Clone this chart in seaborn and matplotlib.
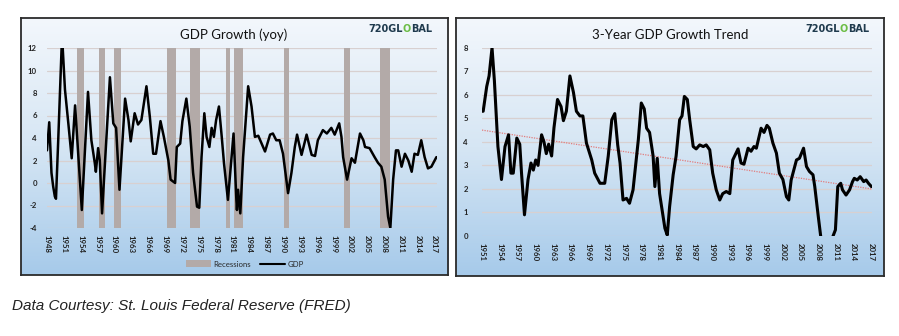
import numpy as np
import pandas as pd
import matplotlib
matplotlib.use("Agg")
import matplotlib.pyplot as plt
from matplotlib.colors import LinearSegmentedColormap
from matplotlib.patches import Patch
from matplotlib.lines import Line2D
import seaborn as sns

# ---------------- data ----------------
gdp_years = [1948.0, 1948.4, 1948.8, 1949.1, 1949.4, 1949.6, 1950.0, 1950.6, 1950.8, 1951.2,
             1951.8, 1952.4, 1953.0, 1953.4, 1954.2, 1955.3, 1955.9, 1956.5, 1956.7, 1957.1,
             1957.4, 1957.8, 1959.2, 1959.8, 1960.3, 1960.9, 1961.9, 1962.5, 1962.9, 1963.6,
             1964.2, 1964.8, 1965.7, 1966.3, 1966.9, 1967.4, 1968.2, 1968.8, 1969.6, 1970.0,
             1970.8, 1971.1, 1971.7, 1972.1, 1972.8, 1973.4, 1974.0, 1974.7, 1975.1, 1975.5,
             1976.0, 1976.4, 1976.9, 1977.3, 1977.7, 1978.1, 1978.6, 1979.1, 1979.5, 1980.2,
             1981.2, 1981.7, 1981.8, 1982.0, 1982.4, 1982.9, 1983.8, 1984.4, 1985.0, 1985.6,
             1986.2, 1986.8, 1987.7, 1988.2, 1988.8, 1989.4, 1990.0, 1990.9, 1991.5, 1992.1,
             1992.5, 1993.3, 1994.2, 1995.1, 1995.7, 1996.2, 1997.1, 1997.8, 1998.6, 1999.2,
             2000.0, 2000.4, 2000.7, 2001.4, 2002.2, 2002.8, 2003.7, 2004.3, 2004.6, 2005.4,
             2006.3, 2006.9, 2007.5, 2008.1, 2008.7, 2009.1, 2009.6, 2010.1, 2010.5, 2011.1,
             2011.7, 2012.3, 2012.9, 2013.4, 2014.0, 2014.6, 2015.2, 2015.8, 2016.4, 2017.3]
gdp_values = [2.9, 5.4, 0.9, -0.3, -1.2, -1.4, 3.8, 12.0, 12.0, 8.3,
              5.3, 2.2, 6.9, 3.8, -2.4, 8.1, 3.8, 1.8, 1.0, 3.1,
              2.0, -2.7, 9.4, 5.3, 4.9, -0.6, 7.5, 5.6, 3.7, 6.2,
              5.2, 5.6, 8.6, 5.9, 2.6, 2.6, 5.5, 4.1, 2.0, 0.3,
              0.0, 3.2, 3.5, 5.5, 7.5, 5.0, 0.9, -2.1, -2.2, 2.3,
              6.2, 4.1, 3.2, 4.9, 4.1, 5.6, 6.8, 4.1, 1.75, -1.5,
              4.4, -1.5, -2.4, -0.6, -2.7, 2.3, 8.6, 6.8, 4.1, 4.2,
              3.5, 2.8, 4.3, 4.4, 3.8, 3.8, 2.6, -0.9, 0.9, 3.2,
              4.3, 2.5, 4.3, 2.5, 2.4, 3.8, 4.7, 4.4, 4.9, 4.3,
              5.3, 4.1, 2.3, 0.3, 2.2, 1.8, 4.4, 3.8, 3.2, 3.1,
              2.3, 1.8, 1.45, 0.3, -3.0, -4.0, 0.3, 2.9, 2.9, 1.45,
              2.6, 2.0, 1.0, 2.6, 2.5, 3.8, 2.3, 1.3, 1.45, 2.3]

rec_start = [1953.3, 1957.2, 1960.0, 1969.4, 1973.4, 1979.8, 1981.3, 1990.1, 2000.8, 2007.3]
rec_end   = [1954.5, 1958.4, 1961.2, 1970.9, 1975.2, 1980.5, 1982.9, 1991.1, 2001.9, 2009.1]

trend3_years = [1951.0, 1951.2, 1951.8, 1952.2, 1952.7, 1953.1, 1953.7, 1954.3, 1954.9, 1955.5,
                1955.9, 1956.3, 1956.9, 1957.4, 1957.7, 1958.2, 1958.8, 1959.3, 1959.7, 1960.1,
                1960.5, 1961.1, 1961.5, 1961.9, 1962.3, 1962.8, 1963.2, 1963.8, 1964.4, 1964.8,
                1965.3, 1965.9, 1966.5, 1967.0, 1967.6, 1968.1, 1968.7, 1969.6, 1970.1, 1971.0,
                1971.8, 1972.4, 1973.0, 1973.5, 1974.0, 1974.4, 1974.9, 1975.5, 1976.0, 1976.6,
                1977.5, 1978.0, 1978.5, 1978.9, 1979.4, 1980.0, 1980.3, 1980.7, 1981.1, 1981.7,
                1982.0, 1982.4, 1982.8, 1983.4, 1983.9, 1984.5, 1984.9, 1985.3, 1985.8, 1986.2,
                1986.8, 1987.3, 1987.9, 1988.5, 1989.0, 1989.6, 1990.1, 1990.7, 1991.3, 1991.8,
                1992.4, 1993.0, 1993.5, 1994.4, 1994.9, 1995.4, 1996.1, 1996.6, 1997.1, 1997.5,
                1998.3, 1998.8, 1999.3, 1999.7, 2000.3, 2000.9, 2001.4, 2002.0, 2002.6, 2003.0,
                2003.4, 2004.3, 2004.8, 2005.5, 2006.0, 2006.5, 2007.1, 2007.4, 2007.6, 2008.0,
                2008.4, 2009.0, 2010.0, 2010.5, 2010.9, 2011.3, 2011.8, 2012.1, 2012.7, 2013.3,
                2013.8, 2014.1, 2014.6, 2015.1, 2015.7, 2016.1, 2016.5, 2017.0]
trend3_values = [5.3, 5.3, 6.35, 6.8, 8.0, 6.6, 3.8, 2.4, 3.8, 4.3,
                 2.67, 2.67, 4.16, 3.9, 2.67, 0.9, 2.4, 3.1, 2.8, 3.23,
                 3.0, 4.3, 4.0, 3.5, 3.9, 3.4, 4.6, 5.8, 5.5, 4.9,
                 5.3, 6.8, 6.1, 5.3, 5.1, 5.1, 3.95, 3.23, 2.67, 2.24,
                 2.24, 3.4, 4.94, 5.2, 3.87, 3.1, 1.53, 1.6, 1.39, 1.96,
                 4.1, 5.65, 5.4, 4.58, 4.4, 3.4, 2.1, 3.3, 1.8, 0.82,
                 0.33, 0.04, 1.25, 2.6, 3.4, 4.94, 5.1, 5.93, 5.8, 4.94,
                 3.8, 3.7, 3.87, 3.8, 3.87, 3.66, 2.67, 1.96, 1.53, 1.8,
                 1.89, 1.8, 3.23, 3.7, 3.1, 3.05, 3.73, 3.6, 3.8, 3.73,
                 4.58, 4.4, 4.7, 4.58, 3.95, 3.52, 2.67, 2.4, 1.67, 1.53,
                 2.38, 3.23, 3.3, 3.73, 2.95, 2.74, 2.6, 2.1, 1.67, 0.82,
                 0.0, -0.6, -0.6, 0.0, 0.26, 2.1, 2.24, 1.96, 1.74, 1.96,
                 2.31, 2.45, 2.38, 2.52, 2.31, 2.38, 2.24, 2.1]

trendline_years = [1951.0, 2017.0]
trendline_values = [4.5, 2.0]

left_xticks = list(range(1948, 2018, 3))
left_yticks = list(range(-4, 13, 2))
right_xticks = list(range(1951, 2018, 3))
right_yticks = list(range(0, 9))

# ---------------- figure ----------------
sns.set_theme(style="white")
plt.rcParams["font.family"] = ["Lato", "DejaVu Sans"]

W, H = 899, 336
fig = plt.figure(figsize=(W / 100, H / 100), dpi=100)
fig.patch.set_facecolor("white")


def fx(px):
    return px / W


def fy(py):
    return 1 - py / H


grad_cmap = LinearSegmentedColormap.from_list("g", ["#f3f7fc", "#d6e6f4", "#a6caea"])


def panel_box(x0, y0, x1, y1):
    bg = fig.add_axes([fx(x0), fy(y1), (x1 - x0) / W, (y1 - y0) / H])
    grad = np.linspace(0, 1, 256).reshape(-1, 1)
    bg.imshow(grad, aspect="auto", cmap=grad_cmap, extent=[0, 1, 0, 1], origin="upper")
    bg.set_xticks([])
    bg.set_yticks([])
    for s in bg.spines.values():
        s.set_visible(True)
        s.set_color("#2b2b2b")
        s.set_linewidth(1.3)
    bg.set_zorder(0)
    return bg


def logo(x, y):
    t1 = fig.text(fx(x), fy(y), "720GL", fontsize=7, fontweight="bold",
                  color="#1f3a4d", family="DejaVu Sans", va="center", ha="left")
    t2 = fig.text(0, 0, "O", fontsize=7, fontweight="bold", color="#6cbd45",
                  family="DejaVu Sans", va="bottom", ha="left")
    fig.canvas.draw()
    bb = t1.get_window_extent()
    t2.set_position((bb.x1 / W, bb.y0 / H))
    fig.canvas.draw()
    bb2 = t2.get_window_extent()
    fig.text(bb2.x1 / W, bb.y0 / H, "BAL", fontsize=7, fontweight="bold",
             color="#1f3a4d", family="DejaVu Sans", va="bottom", ha="left")


def style_axes(ax):
    ax.set_facecolor("none")
    for s in ax.spines.values():
        s.set_visible(False)
    ax.grid(axis="y", color="#d8d0d0", linewidth=0.9)
    ax.grid(axis="x", visible=False)
    ax.tick_params(axis="both", length=0, labelsize=5.6, labelcolor="#222222")
    for lab in ax.get_xticklabels() + ax.get_yticklabels():
        lab.set_fontweight("bold")
    ax.set_xlabel("")
    ax.set_ylabel("")


# ---------- left panel ----------
panel_box(21, 18, 448, 275)
axL = fig.add_axes([fx(46.7), fy(228), 390 / W, 180 / H])
axL.set_zorder(1)
rec_color = "#b3aaa8"
for s, e in zip(rec_start, rec_end):
    axL.axvspan(s, e, color=rec_color, lw=0, zorder=1)
dfL = pd.DataFrame({"year": gdp_years, "gdp": gdp_values})
sns.lineplot(data=dfL, x="year", y="gdp", ax=axL, color="black", linewidth=1.8, zorder=3)
axL.set_xlim(1947.95, 2017.35)
axL.set_ylim(-4, 12)
axL.set_xticks(left_xticks)
axL.set_xticklabels([str(v) for v in left_xticks], rotation=-90)
axL.set_yticks(left_yticks)
axL.set_yticklabels([str(v) for v in left_yticks])
style_axes(axL)
axL.tick_params(axis="x", pad=5)
axL.tick_params(axis="y", pad=7)
axL.set_axisbelow(True)

fig.text(fx(234), fy(35), "GDP Growth (yoy)", fontsize=9.5, ha="center", va="center", color="#111111")
logo(368, 29)

handles = [Patch(facecolor=rec_color, edgecolor="none"), Line2D([], [], color="black", lw=1.5)]
fig.legend(handles, ["Recessions", "GDP"], loc="center", bbox_to_anchor=(fx(245), fy(264)),
           ncol=2, frameon=False, fontsize=5.6, handlelength=3.2, handleheight=1.0,
           columnspacing=1.2, handletextpad=0.3)

# ---------- right panel ----------
panel_box(456, 18, 884, 276)
axR = fig.add_axes([fx(481.7), fy(236), 390 / W, 188.3 / H])
axR.set_zorder(1)
dfR = pd.DataFrame({"year": trend3_years, "trend": trend3_values})
sns.lineplot(data=dfR, x="year", y="trend", ax=axR, color="black", linewidth=2.2, zorder=3)
dfT = pd.DataFrame({"year": trendline_years, "fit": trendline_values})
sns.lineplot(data=dfT, x="year", y="fit", ax=axR, color="#e27c7c", linewidth=0.9,
             linestyle=(0, (1, 1)), zorder=2)
axR.set_xlim(1950.95, 2017.05)
axR.set_ylim(0, 8)
axR.set_xticks(right_xticks)
axR.set_xticklabels([str(v) for v in right_xticks], rotation=-90)
axR.set_yticks(right_yticks)
axR.set_yticklabels([str(v) for v in right_yticks])
style_axes(axR)
axR.tick_params(axis="x", pad=5)
axR.tick_params(axis="y", pad=10)

fig.text(fx(670), fy(35), "3-Year GDP Growth Trend", fontsize=9.5, ha="center", va="center", color="#111111")
logo(805, 29)

# ---------- caption ----------
fig.text(fx(12), fy(306), "Data Courtesy: St. Louis Federal Reserve (FRED)", fontsize=11,
         style="italic", family="Liberation Sans", color="#222222", va="center", ha="left")

fig.savefig("out.png", dpi=100)
